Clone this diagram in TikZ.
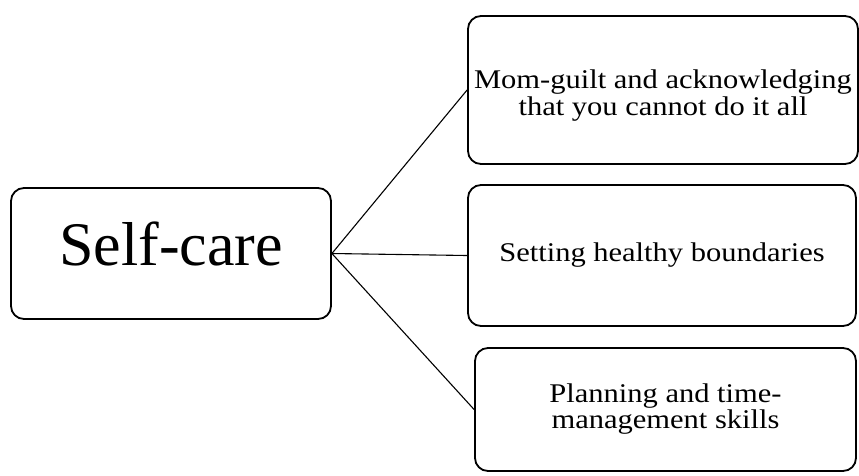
\documentclass[tikz,border=0pt]{standalone}
\usepackage{fontspec}
\setmainfont{Liberation Serif}
\newfontfamily\boxfont{Liberation Serif}[FakeStretch=1.13]

\begin{document}
\begin{tikzpicture}[x=1pt, y=-1pt,
    topic/.style={draw=black, line width=1.8pt, rounded corners=13pt,
      align=center, inner sep=0pt},
    leaf/.style={topic, font=\boxfont\fontsize{27}{27}\selectfont},
    link/.style={draw=black, line width=1.1pt}]
  %% Fixed canvas, measured in pixels of the 859 x 475 reference.
  \useasboundingbox (0,0) rectangle (859,475);

  %% Central theme on the left.
  \node[topic, minimum width=320pt, minimum height=131pt, text depth=19pt,
        font=\fontsize{62}{62}\selectfont]
    (selfcare) at (171,253.5) {Self-care};

  %% Three sub-themes stacked on the right.
  \node[leaf, minimum width=390pt, minimum height=148pt,
        text height=50pt, text depth=0pt]
    (guilt) at (663,90) {Mom-guilt and acknowledging\\that you cannot do it all};
  \node[leaf, minimum width=388pt, minimum height=141pt]
    (bounds) at (662,255.5) {Setting healthy boundaries};
  \node[leaf, minimum width=381pt, minimum height=123pt,
        text height=37pt, text depth=0pt,
        font=\boxfont\fontsize{27}{21.5}\selectfont]
    (plan) at (665.5,409.5) {Planning and time-\\management skills};

  %% Straight spokes from the theme to each sub-theme.
  \foreach \sub in {guilt, bounds, plan}
    \draw[link] (selfcare.east) -- (\sub.west);
\end{tikzpicture}
\end{document}
